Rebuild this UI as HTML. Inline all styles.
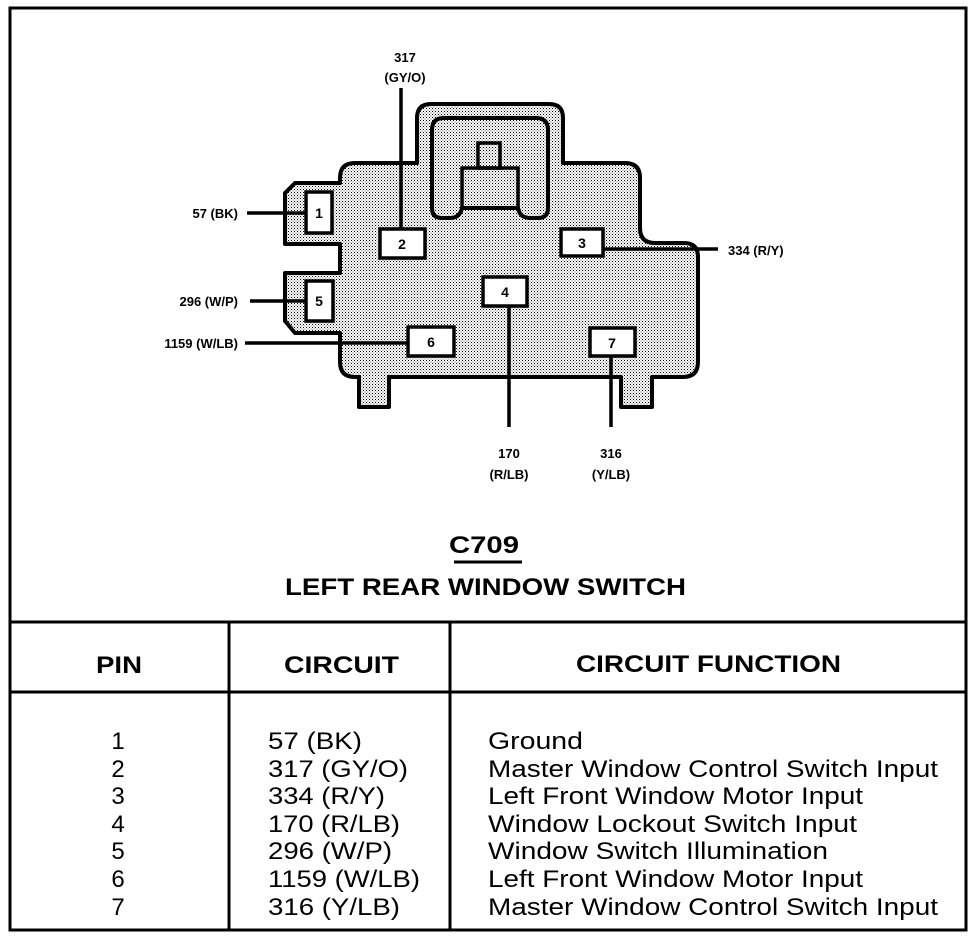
<!DOCTYPE html>
<html><head><meta charset="utf-8"><style>
html,body{margin:0;padding:0;background:#fff;}
svg{display:block;}
text{font-family:"Liberation Sans",Arial,sans-serif;fill:#000;}
</style></head><body>
<svg width="976" height="940" viewBox="0 0 976 940" xmlns="http://www.w3.org/2000/svg">
<defs>
<pattern id="st" width="3" height="3" patternUnits="userSpaceOnUse">
<rect width="3" height="3" fill="#fff"/>
<rect x="0" y="0" width="1" height="1" fill="#000"/>
<rect x="1.5" y="1.5" width="1" height="1" fill="#555"/>
</pattern>
</defs>
<!-- outer frame -->
<rect x="10" y="8" width="956" height="922" fill="none" stroke="#000" stroke-width="3"/>
<line x1="10" y1="622" x2="966" y2="622" stroke="#000" stroke-width="3"/>
<line x1="10" y1="692" x2="966" y2="692" stroke="#000" stroke-width="3"/>
<line x1="229" y1="622" x2="229" y2="930" stroke="#000" stroke-width="3"/>
<line x1="450" y1="622" x2="450" y2="930" stroke="#000" stroke-width="3"/>

<!-- connector body -->
<path d="M355 163 L417 163 L417 118 Q417 104 431 104 L549 104 Q563 104 563 118 L563 163 L625 163 Q640 163 640 178 L640 228 Q640 243 655 243 L684 243 Q698 243 698 257 L698 362 Q698 377 683 377 L652 377 L652 407 L621 407 L621 377 L389 377 L389 407 L359 407 L359 377 L355 377 Q340 377 340 362 L340 333 L295 333 L285 321 L285 273 L340 273 L340 244 L285 244 L285 193 L295 183 L340 183 L340 178 Q340 163 355 163 Z" fill="url(#st)" stroke="#000" stroke-width="4" stroke-linejoin="round"/>
<path d="M432 208 L432 130 Q432 118 444 118 L536 118 Q548 118 548 130 L548 208 Q548 218 538 218 L530 218 Q520 218 518 208 L462 208 Q460 218 450 218 L442 218 Q432 218 432 208 Z" fill="none" stroke="#000" stroke-width="4"/>
<rect x="462" y="168" width="56" height="40" fill="none" stroke="#000" stroke-width="3.5"/>
<rect x="478" y="143" width="22" height="25" fill="none" stroke="#000" stroke-width="3.5"/>

<!-- wires -->
<g stroke="#000" stroke-width="3.5">
<line x1="247" y1="213" x2="306" y2="213"/>
<line x1="401" y1="88" x2="401" y2="229"/>
<line x1="603" y1="249" x2="718" y2="249"/>
<line x1="250" y1="301" x2="306" y2="301"/>
<line x1="245" y1="343" x2="408" y2="343"/>
<line x1="509" y1="306" x2="509" y2="427"/>
<line x1="611" y1="356" x2="611" y2="427"/>
</g>

<!-- pins -->
<g fill="#fff" stroke="#000" stroke-width="3.5">
<rect x="306" y="192" width="26" height="41"/>
<rect x="380" y="229" width="45" height="29"/>
<rect x="561" y="229" width="42" height="27"/>
<rect x="483" y="277" width="44" height="29"/>
<rect x="306" y="281" width="27" height="40"/>
<rect x="408" y="327" width="46" height="29"/>
<rect x="590" y="328" width="45" height="28"/>
</g>
<g font-size="14" font-weight="bold" text-anchor="middle">
<text x="319" y="218">1</text>
<text x="402" y="249">2</text>
<text x="582" y="248">3</text>
<text x="505" y="297">4</text>
<text x="319" y="306">5</text>
<text x="431" y="347">6</text>
<text x="612" y="348">7</text>
</g>

<!-- wire labels -->
<g font-size="13" font-weight="bold">
<text x="405" y="62" text-anchor="middle">317</text>
<text x="405" y="82" text-anchor="middle">(GY/O)</text>
<text x="238" y="218" text-anchor="end">57 (BK)</text>
<text x="728" y="255">334 (R/Y)</text>
<text x="238" y="306" text-anchor="end">296 (W/P)</text>
<text x="238" y="348" text-anchor="end">1159 (W/LB)</text>
<text x="509" y="458" text-anchor="middle">170</text>
<text x="509" y="479" text-anchor="middle">(R/LB)</text>
<text x="611" y="458" text-anchor="middle">316</text>
<text x="611" y="479" text-anchor="middle">(Y/LB)</text>
</g>

<!-- title -->
<text x="484" y="553" font-size="24" font-weight="bold" text-anchor="middle" textLength="70" lengthAdjust="spacingAndGlyphs">C709</text>
<line x1="454" y1="562" x2="522" y2="562" stroke="#000" stroke-width="3"/>
<text x="285" y="595" font-size="24" font-weight="bold" textLength="401" lengthAdjust="spacingAndGlyphs">LEFT REAR WINDOW SWITCH</text>

<!-- header -->
<g font-size="24" font-weight="bold">
<text x="96" y="673" textLength="46" lengthAdjust="spacingAndGlyphs">PIN</text>
<text x="284" y="673" textLength="115" lengthAdjust="spacingAndGlyphs">CIRCUIT</text>
<text x="576" y="672" textLength="265" lengthAdjust="spacingAndGlyphs">CIRCUIT FUNCTION</text>
</g>

<!-- rows -->
<g font-size="24">
<text x="118" y="749" text-anchor="middle">1</text>
<text x="118" y="777" text-anchor="middle">2</text>
<text x="118" y="804" text-anchor="middle">3</text>
<text x="118" y="832" text-anchor="middle">4</text>
<text x="118" y="859" text-anchor="middle">5</text>
<text x="118" y="887" text-anchor="middle">6</text>
<text x="118" y="915" text-anchor="middle">7</text>

<text x="268" y="749" textLength="94" lengthAdjust="spacingAndGlyphs">57 (BK)</text>
<text x="268" y="777" textLength="140" lengthAdjust="spacingAndGlyphs">317 (GY/O)</text>
<text x="268" y="804" textLength="117" lengthAdjust="spacingAndGlyphs">334 (R/Y)</text>
<text x="268" y="832" textLength="132" lengthAdjust="spacingAndGlyphs">170 (R/LB)</text>
<text x="268" y="859" textLength="124" lengthAdjust="spacingAndGlyphs">296 (W/P)</text>
<text x="268" y="887" textLength="152" lengthAdjust="spacingAndGlyphs">1159 (W/LB)</text>
<text x="268" y="915" textLength="132" lengthAdjust="spacingAndGlyphs">316 (Y/LB)</text>

<text x="488" y="749" textLength="95" lengthAdjust="spacingAndGlyphs">Ground</text>
<text x="488" y="777" textLength="450" lengthAdjust="spacingAndGlyphs">Master Window Control Switch Input</text>
<text x="488" y="804" textLength="375" lengthAdjust="spacingAndGlyphs">Left Front Window Motor Input</text>
<text x="488" y="832" textLength="369" lengthAdjust="spacingAndGlyphs">Window Lockout Switch Input</text>
<text x="488" y="859" textLength="340" lengthAdjust="spacingAndGlyphs">Window Switch Illumination</text>
<text x="488" y="887" textLength="375" lengthAdjust="spacingAndGlyphs">Left Front Window Motor Input</text>
<text x="488" y="915" textLength="450" lengthAdjust="spacingAndGlyphs">Master Window Control Switch Input</text>
</g>
</svg>
</body></html>
